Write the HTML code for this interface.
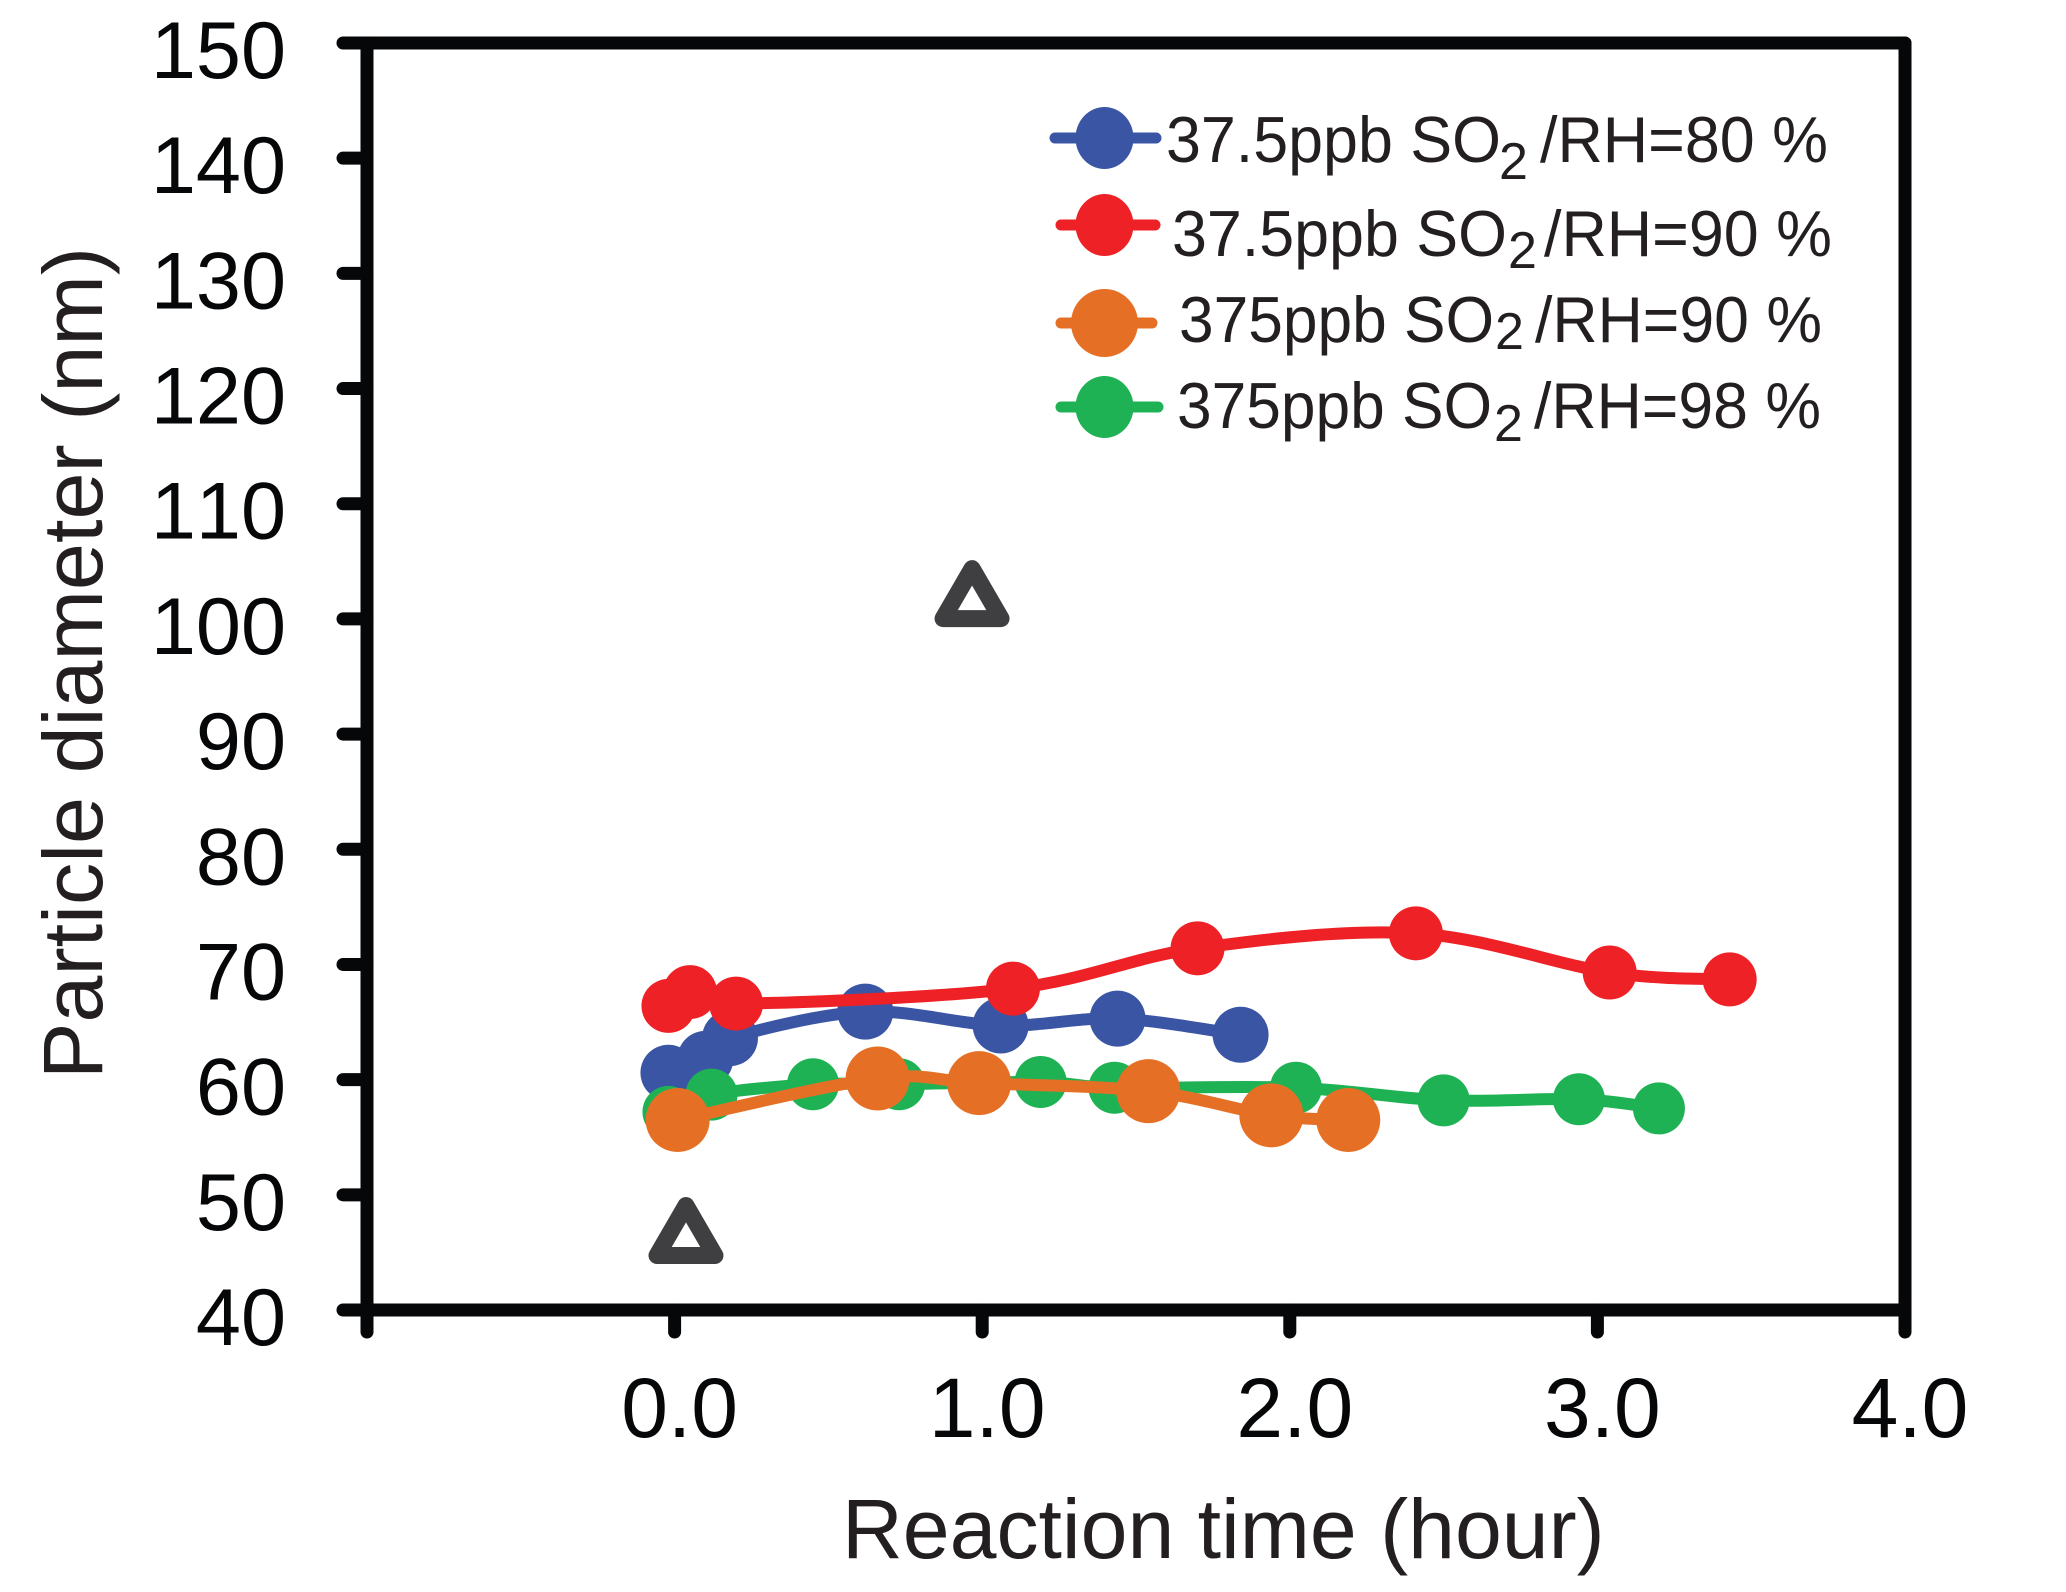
<!DOCTYPE html>
<html lang="en">
<head>
<meta charset="utf-8">
<title>Particle diameter vs reaction time</title>
<style>
  html, body { margin: 0; padding: 0; background: #ffffff; }
  svg { display: block; font-family: "Liberation Sans", Arial, sans-serif; font-kerning: none; }
</style>
</head>
<body>
<svg id="chart" xmlns="http://www.w3.org/2000/svg" width="2066" height="1592" viewBox="0 0 2066 1592">
  <rect x="0" y="0" width="2066" height="1592" fill="#ffffff"/>
  <g id="axes"></g>
  <g id="series"></g>

  <text x="842" y="1558" font-size="84.2" fill="#231f20">Reaction time (hour)</text>
  <text transform="translate(102,1079) rotate(-90)" font-size="84.6" fill="#231f20">Particle diameter (nm)</text>

  <g>
    <g>
      <line x1="1055" y1="138" x2="1156" y2="138" stroke="#3b55a5" stroke-width="11" stroke-linecap="round"/>
      <ellipse cx="1104.5" cy="138" rx="29" ry="31" fill="#3b55a5"/>
      <text font-size="65" fill="#231f20"><tspan x="1166" y="162" textLength="335" lengthAdjust="spacingAndGlyphs">37.5ppb SO</tspan><tspan x="1499" y="179" font-size="52">2</tspan><tspan x="1540" y="162" textLength="288" lengthAdjust="spacingAndGlyphs">/RH=80 %</tspan></text>
    </g>
    <g>
      <line x1="1061" y1="225" x2="1155" y2="225" stroke="#ee2226" stroke-width="11" stroke-linecap="round"/>
      <ellipse cx="1104.5" cy="225" rx="29" ry="31" fill="#ee2226"/>
      <text font-size="65" fill="#231f20"><tspan x="1172" y="256" textLength="335" lengthAdjust="spacingAndGlyphs">37.5ppb SO</tspan><tspan x="1508" y="268" font-size="52">2</tspan><tspan x="1544" y="256" textLength="288" lengthAdjust="spacingAndGlyphs">/RH=90 %</tspan></text>
    </g>
    <g>
      <line x1="1061" y1="323" x2="1152" y2="323" stroke="#e57025" stroke-width="11" stroke-linecap="round"/>
      <ellipse cx="1104.5" cy="323" rx="33.5" ry="34" fill="#e57025"/>
      <text font-size="65" fill="#231f20"><tspan x="1179" y="342" textLength="315" lengthAdjust="spacingAndGlyphs">375ppb SO</tspan><tspan x="1495" y="349" font-size="52">2</tspan><tspan x="1535" y="342" textLength="287" lengthAdjust="spacingAndGlyphs">/RH=90 %</tspan></text>
    </g>
    <g>
      <line x1="1061" y1="407" x2="1158" y2="407" stroke="#1fb254" stroke-width="11" stroke-linecap="round"/>
      <ellipse cx="1104.5" cy="407" rx="29" ry="31" fill="#1fb254"/>
      <text font-size="65" fill="#231f20"><tspan x="1177" y="428" textLength="315" lengthAdjust="spacingAndGlyphs">375ppb SO</tspan><tspan x="1494" y="441" font-size="52">2</tspan><tspan x="1534" y="428" textLength="287" lengthAdjust="spacingAndGlyphs">/RH=98 %</tspan></text>
    </g>
  </g>
</svg>

<script>
var xTickValues = [-1, 0, 1, 2, 3, 4];
var xTickLabels = ["", "0.0", "1.0", "2.0", "3.0", "4.0"];
var yTickValues = [40, 50, 60, 70, 80, 90, 100, 110, 120, 130, 140, 150];
var yTickLabels = ["40", "50", "60", "70", "80", "90", "100", "110", "120", "130", "140", "150"];

var blueTimes = [-0.02, 0.10, 0.18, 0.62, 1.06, 1.44, 1.84];
var blueDiameters = [60.6, 61.8, 63.6, 65.9, 64.7, 65.3, 63.9];
var redTimes = [-0.02, 0.05, 0.20, 1.10, 1.70, 2.41, 3.04, 3.43];
var redDiameters = [66.4, 67.6, 66.6, 67.9, 71.4, 72.7, 69.3, 68.7];
var greenTimes = [-0.02, 0.12, 0.45, 0.73, 1.19, 1.43, 2.02, 2.50, 2.94, 3.20];
var greenDiameters = [57.2, 58.7, 59.6, 59.6, 59.8, 59.3, 59.3, 58.2, 58.3, 57.5];
var orangeTimes = [0.01, 0.66, 0.99, 1.54, 1.94, 2.19];
var orangeDiameters = [56.5, 60.1, 59.7, 59.0, 56.9, 56.5];
var triangleTimes = [0.037, 0.967];
var triangleDiameters = [46.9, 102.2];

var NS = "http://www.w3.org/2000/svg";
var axesLayer = document.getElementById("axes");
var seriesLayer = document.getElementById("series");

function xScale(v) { return 367 + (v + 1) * (1905 - 367) / 5; }
function yScale(v) { return 1310 - (v - 40) * (1310 - 43) / 110; }

function axisLine(x1, y1, x2, y2, w) {
  var l = document.createElementNS(NS, "line");
  l.setAttribute("x1", x1);
  l.setAttribute("y1", y1);
  l.setAttribute("x2", x2);
  l.setAttribute("y2", y2);
  l.setAttribute("stroke", "#060708");
  l.setAttribute("stroke-width", w);
  l.setAttribute("stroke-linecap", "round");
  return l;
}

function smoothPath(pts) {
  var d = "M" + pts[0][0] + " " + pts[0][1];
  for (var i = 0; i < pts.length - 1; i++) {
    var p0 = pts[Math.max(i - 1, 0)];
    var p1 = pts[i];
    var p2 = pts[i + 1];
    var p3 = pts[Math.min(i + 2, pts.length - 1)];
    var c1x = p1[0] + (p2[0] - p0[0]) / 6;
    var c1y = p1[1] + (p2[1] - p0[1]) / 6;
    var c2x = p2[0] - (p3[0] - p1[0]) / 6;
    var c2y = p2[1] - (p3[1] - p1[1]) / 6;
    d += " C" + c1x + " " + c1y + " " + c2x + " " + c2y + " " + p2[0] + " " + p2[1];
  }
  return d;
}

function drawSeries(times, values, color, radius, key) {
  var pts = times.map(function (t, i) { return [xScale(t), yScale(values[i])]; });
  var group = document.createElementNS(NS, "g");
  
  
  var path = document.createElementNS(NS, "path");
  
  
  path.setAttribute("d", smoothPath(pts));
  path.setAttribute("fill", "none");
  path.setAttribute("stroke", color);
  path.setAttribute("stroke-width", "12");
  group.appendChild(path);
  pts.forEach(function (p) {
    var c = document.createElementNS(NS, "circle");
    
    
    c.setAttribute("cx", p[0]);
    c.setAttribute("cy", p[1]);
    c.setAttribute("r", radius);
    c.setAttribute("fill", color);
    group.appendChild(c);
  });
  seriesLayer.appendChild(group);
}

function drawTriangle(t, v) {
  var cx = xScale(t);
  var cy = yScale(v);
  var tri = document.createElementNS(NS, "path");
  
  
  tri.setAttribute("d", "M" + cx + " " + (cy - 25) + " L" + (cx + 29) + " " + (cy + 25) + " L" + (cx - 29) + " " + (cy + 25) + " Z");
  tri.setAttribute("fill", "#ffffff");
  tri.setAttribute("stroke", "#3f3f41");
  tri.setAttribute("stroke-width", "17");
  tri.setAttribute("stroke-linejoin", "round");
  seriesLayer.appendChild(tri);
}

/* frame */
var frameTopY = yScale(150), frameBottomY = yScale(40), frameLeftX = xScale(-1), frameRightX = xScale(4);
var frameLeft = axisLine(frameLeftX, frameTopY, frameLeftX, frameBottomY, 13);


axesLayer.appendChild(frameLeft);
var frameBottom = axisLine(frameLeftX, frameBottomY, frameRightX, frameBottomY, 13);


axesLayer.appendChild(frameBottom);
var frameTop = axisLine(frameLeftX, frameTopY, frameRightX, frameTopY, 13);


axesLayer.appendChild(frameTop);
var frameRight = axisLine(frameRightX, frameTopY, frameRightX, frameBottomY, 13);


axesLayer.appendChild(frameRight);

/* y ticks */
yTickValues.forEach(function (v, i) {
  var y = yScale(v);
  var tick = axisLine(frameLeftX, y, 343, y, 13);
  
  
  axesLayer.appendChild(tick);
  var label = document.createElementNS(NS, "text");
  
  
  label.setAttribute("x", 286);
  label.setAttribute("y", y + 35);
  label.setAttribute("text-anchor", "end");
  label.setAttribute("font-size", "81");
  label.setAttribute("fill", "#060708");
  label.textContent = yTickLabels[i];
  axesLayer.appendChild(label);
});

/* x ticks */
xTickValues.forEach(function (v, i) {
  var x = xScale(v);
  var tick = axisLine(x, frameBottomY, x, 1332, 13);
  
  
  axesLayer.appendChild(tick);
  if (xTickLabels[i] !== "") {
    var label = document.createElementNS(NS, "text");
    
    
    label.setAttribute("x", x + 5);
    label.setAttribute("y", 1437);
    label.setAttribute("text-anchor", "middle");
    label.setAttribute("font-size", "84");
    label.setAttribute("fill", "#060708");
    label.textContent = xTickLabels[i];
    axesLayer.appendChild(label);
  }
});

/* data */
drawSeries(blueTimes, blueDiameters, "#3b55a5", 28, "blue-37-5ppb-rh80");
drawSeries(redTimes, redDiameters, "#ee2226", 27, "red-37-5ppb-rh90");
drawSeries(greenTimes, greenDiameters, "#1fb254", 26, "green-375ppb-rh98");
drawSeries(orangeTimes, orangeDiameters, "#e57025", 32, "orange-375ppb-rh90");
triangleTimes.forEach(function (t, i) { drawTriangle(t, triangleDiameters[i]); });
</script>
</body>
</html>
